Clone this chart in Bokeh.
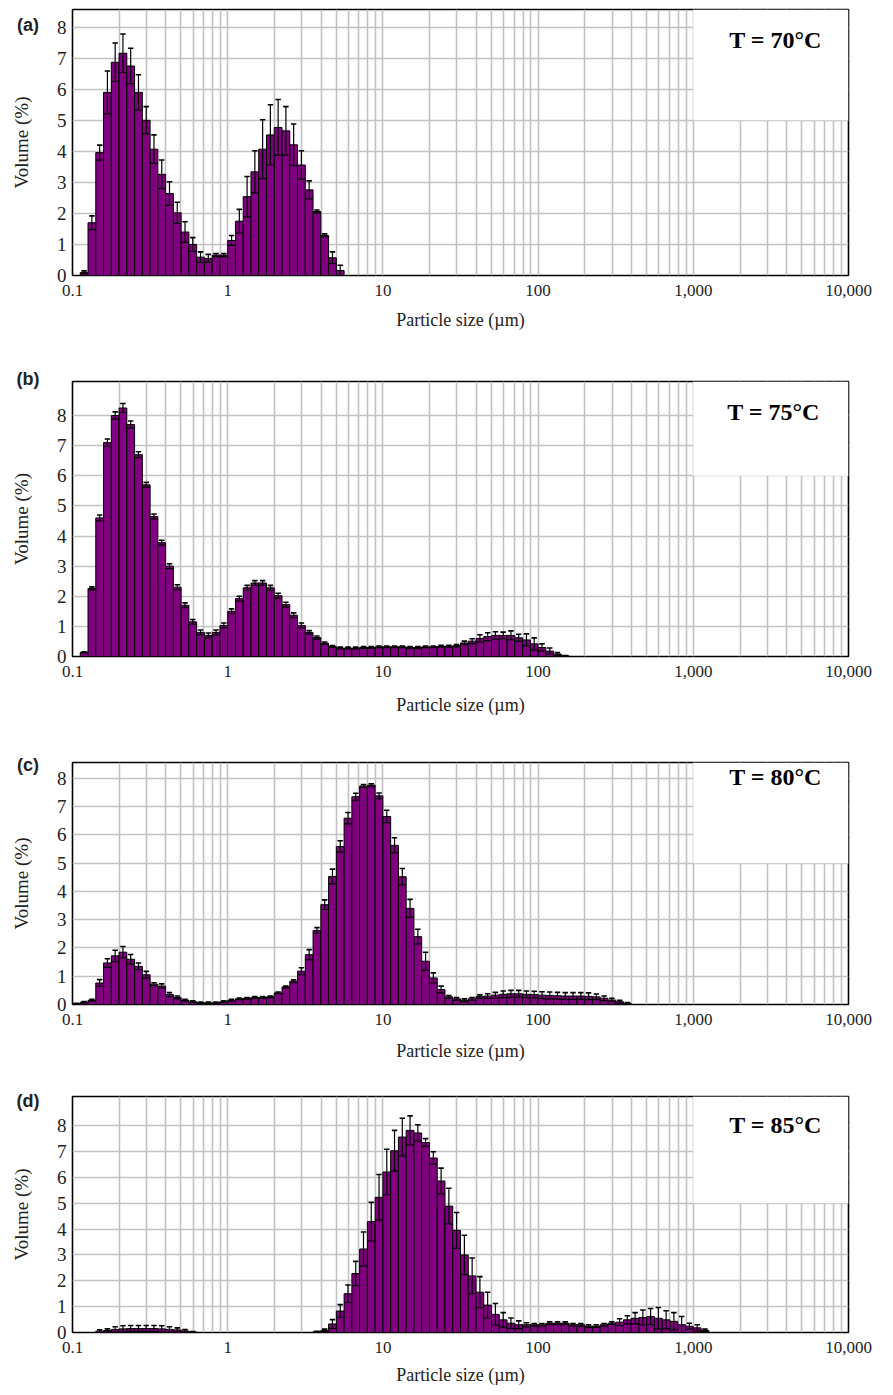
import numpy as np
from bokeh.plotting import figure
from bokeh.layouts import column
from bokeh.models import (Range1d, FixedTicker, NumeralTickFormatter, BoxAnnotation,
                          Label, ColumnDataSource, Div)
from bokeh.embed import file_html
from bokeh.resources import INLINE

# ---------------- data ----------------
CLASSES_PER_DECADE = 20          # size classes (log-spaced) per decade
SMALLEST_CLASS = 0.1             # µm, lower edge of class 0
x_ticks = [0.1, 1, 10, 100, 1000, 10000]
x_minor = [m * d for d in [0.1, 1, 10, 100, 1000] for m in range(2, 10)]
y_ticks = [0, 1, 2, 3, 4, 5, 6, 7, 8]

panel_tags = ["(a)", "(b)", "(c)", "(d)"]
temperatures = ["T = 70°C", "T = 75°C", "T = 80°C", "T = 85°C"]
first_class = [1, 1, 0, 3]

a_mean = [0.10, 1.70, 3.96, 5.90, 6.87, 7.16, 6.75, 5.90, 5.00, 4.07,
          3.26, 2.64, 2.02, 1.40, 1.00, 0.59, 0.55, 0.66, 0.66, 1.13,
          1.75, 2.54, 3.34, 4.07, 4.53, 4.77, 4.66, 4.21, 3.56, 2.76,
          2.06, 1.29, 0.57, 0.16]
a_sd = [0.05, 0.22, 0.24, 0.69, 0.62, 0.62, 0.57, 0.57, 0.44, 0.46,
        0.46, 0.38, 0.34, 0.33, 0.22, 0.17, 0.13, 0.05, 0.05, 0.16,
        0.38, 0.65, 0.68, 0.95, 0.97, 0.90, 0.78, 0.67, 0.46, 0.29,
        0.05, 0.05, 0.19, 0.17]

b_mean = [0.14, 2.26, 4.60, 7.10, 8.00, 8.25, 7.70, 6.70, 5.70, 4.65,
          3.78, 3.00, 2.30, 1.70, 1.15, 0.80, 0.70, 0.80, 1.03, 1.50,
          1.92, 2.28, 2.44, 2.44, 2.28, 2.02, 1.72, 1.37, 1.03, 0.80,
          0.63, 0.44, 0.33, 0.28, 0.28, 0.28, 0.30, 0.30, 0.32, 0.32,
          0.32, 0.32, 0.30, 0.30, 0.32, 0.32, 0.34, 0.34, 0.36, 0.45,
          0.51, 0.60, 0.66, 0.70, 0.70, 0.70, 0.62, 0.55, 0.42, 0.30,
          0.18, 0.08, 0.02]
b_sd = [0.02, 0.05, 0.10, 0.12, 0.12, 0.15, 0.12, 0.10, 0.08, 0.08,
        0.08, 0.08, 0.08, 0.08, 0.08, 0.08, 0.08, 0.08, 0.08, 0.08,
        0.08, 0.08, 0.08, 0.08, 0.08, 0.08, 0.08, 0.08, 0.08, 0.06,
        0.05, 0.04, 0.03, 0.03, 0.03, 0.03, 0.03, 0.03, 0.03, 0.03,
        0.03, 0.03, 0.03, 0.03, 0.03, 0.03, 0.03, 0.03, 0.04, 0.06,
        0.08, 0.12, 0.13, 0.12, 0.11, 0.15, 0.12, 0.20, 0.20, 0.12,
        0.10, 0.05, 0.01]

c_mean = [0.03, 0.08, 0.15, 0.76, 1.47, 1.72, 1.85, 1.60, 1.35, 1.05,
          0.72, 0.65, 0.35, 0.25, 0.15, 0.10, 0.06, 0.06, 0.06, 0.10,
          0.15, 0.20, 0.22, 0.25, 0.25, 0.27, 0.41, 0.62, 0.82, 1.18,
          1.76, 2.62, 3.53, 4.53, 5.59, 6.59, 7.35, 7.73, 7.76, 7.38,
          6.65, 5.63, 4.52, 3.40, 2.40, 1.53, 0.94, 0.53, 0.27, 0.20,
          0.15, 0.20, 0.28, 0.30, 0.33, 0.36, 0.38, 0.38, 0.36, 0.35,
          0.33, 0.32, 0.31, 0.30, 0.30, 0.30, 0.29, 0.27, 0.22, 0.16,
          0.10, 0.04]
c_sd = [0.01, 0.02, 0.03, 0.12, 0.15, 0.20, 0.20, 0.17, 0.12, 0.12,
        0.05, 0.08, 0.07, 0.05, 0.03, 0.03, 0.03, 0.03, 0.03, 0.03,
        0.03, 0.03, 0.03, 0.03, 0.03, 0.03, 0.03, 0.03, 0.05, 0.12,
        0.18, 0.10, 0.17, 0.26, 0.20, 0.20, 0.12, 0.05, 0.05, 0.10,
        0.22, 0.27, 0.29, 0.32, 0.26, 0.32, 0.18, 0.12, 0.05, 0.05,
        0.05, 0.05, 0.06, 0.08, 0.10, 0.12, 0.12, 0.12, 0.12, 0.12,
        0.12, 0.12, 0.12, 0.12, 0.12, 0.12, 0.12, 0.10, 0.08, 0.06,
        0.05, 0.03]

d_mean = [0.05, 0.08, 0.12, 0.14, 0.15, 0.15, 0.15, 0.15, 0.14, 0.12,
          0.10, 0.06, 0.02,
          0, 0, 0, 0, 0, 0, 0, 0, 0, 0, 0, 0, 0, 0, 0,
          0.03, 0.08, 0.33, 0.83, 1.50, 2.28, 3.23, 4.29, 5.23, 6.21,
          7.03, 7.56, 7.82, 7.72, 7.35, 6.75, 5.86, 4.89, 3.95, 3.00,
          2.19, 1.56, 1.06, 0.70, 0.49, 0.36, 0.30, 0.30, 0.30, 0.30,
          0.36, 0.36, 0.36, 0.30, 0.30, 0.25, 0.25, 0.30, 0.36, 0.40,
          0.49, 0.55, 0.58, 0.62, 0.55, 0.49, 0.43, 0.30, 0.24, 0.18,
          0.08]
d_sd = [0.05, 0.06, 0.10, 0.12, 0.12, 0.12, 0.12, 0.12, 0.12, 0.10,
        0.08, 0.05, 0.02,
        0, 0, 0, 0, 0, 0, 0, 0, 0, 0, 0, 0, 0, 0, 0,
        0.02, 0.05, 0.17, 0.25, 0.34, 0.47, 0.66, 0.75, 0.88, 0.88,
        0.79, 0.73, 0.56, 0.32, 0.15, 0.24, 0.50, 0.69, 0.69, 0.76,
        0.69, 0.60, 0.50, 0.42, 0.28, 0.20, 0.15, 0.08, 0.05, 0.05,
        0.05, 0.05, 0.05, 0.05, 0.05, 0.05, 0.05, 0.05, 0.05, 0.13,
        0.16, 0.22, 0.29, 0.31, 0.42, 0.35, 0.34, 0.32, 0.12, 0.12,
        0.05]

means = [a_mean, b_mean, c_mean, d_mean]
sds = [a_sd, b_sd, c_sd, d_sd]

# ---------------- styling / layout ----------------
y_max = [8.57, 9.13, 8.56, 9.13]
box_bottom = [5, 6, 5, 5]
# width, height, border left, right, top, bottom
layout = [(877, 332, 65, 29, 9, 57),
          (877, 386, 72, 25, 49, 62),
          (877, 345, 70, 25, 44, 58),
          (877, 324, 72, 25, 33, 50)]
x_standoffs = [(5, 11), (5, 15), (5, 13), (5, 9)]   # tick label, axis label
tag_offset = [4, -14, -9, -7]                # tag centre vs frame top (layout)
temp_pos = [(-80, 30), (-79, 30), (-79, 15), (-77, 33)]   # from frame top-right

SERIF = "Liberation Serif"
PURPLE = "#800080"
GRID = "#c2c2c2"


def make_panel(i):
    w, h, bl, br, bt, bb = layout[i]
    fw, fh = w - bl - br, h - bt - bb
    p = figure(width=w, height=h, x_axis_type="log",
               x_range=Range1d(0.1, 10000), y_range=Range1d(0, y_max[i]),
               output_backend="svg", toolbar_location=None, tools="",
               min_border_left=bl, min_border_right=br,
               min_border_top=bt, min_border_bottom=bb)
    p.background_fill_color = "white"
    p.border_fill_color = "white"
    p.outline_line_color = "black"
    p.outline_line_width = 1.6

    # axes
    p.xaxis.ticker = FixedTicker(ticks=x_ticks, minor_ticks=x_minor)
    p.xaxis.formatter = NumeralTickFormatter(format="0,0.[0]")
    p.yaxis.ticker = FixedTicker(ticks=y_ticks)
    for ax in (p.xaxis[0], p.yaxis[0]):
        ax.axis_line_color = None
        ax.major_tick_line_color = None
        ax.minor_tick_line_color = None
        ax.major_tick_out = 0
        ax.major_tick_in = 0
        ax.major_label_text_font = SERIF
        ax.major_label_text_color = "#222222"
        ax.axis_label_text_font = SERIF
        ax.axis_label_text_font_style = "normal"
        ax.axis_label_text_color = "#222222"
    p.xaxis.major_label_text_font_size = "17px"
    p.yaxis.major_label_text_font_size = "19px"
    p.xaxis.axis_label = "Particle size (µm)"
    p.xaxis.axis_label_text_font_size = "18px"
    p.xaxis.major_label_standoff = x_standoffs[i][0]
    p.xaxis.axis_label_standoff = x_standoffs[i][1]
    p.yaxis.axis_label = "Volume (%)"
    p.yaxis.axis_label_text_font_size = "19px"
    p.yaxis.major_label_standoff = 6
    p.yaxis.axis_label_standoff = 22

    # grid
    p.xgrid.ticker = FixedTicker(ticks=x_ticks, minor_ticks=x_minor)
    p.ygrid.ticker = FixedTicker(ticks=y_ticks)
    for g in (p.xgrid[0], p.ygrid[0]):
        g.grid_line_color = GRID
        g.grid_line_width = 1.6
    p.xgrid.minor_grid_line_color = GRID
    p.xgrid.minor_grid_line_width = 1.6

    # bars
    m = np.array(means[i], dtype=float)
    s = np.array(sds[i], dtype=float)
    k = first_class[i] + np.arange(len(m))
    keep = m > 0
    m, s, k = m[keep], s[keep], k[keep]
    lo = SMALLEST_CLASS * 10 ** (k / CLASSES_PER_DECADE)
    hi = SMALLEST_CLASS * 10 ** ((k + 1) / CLASSES_PER_DECADE)
    mid = np.sqrt(lo * hi)
    cap_l = SMALLEST_CLASS * 10 ** ((k + 0.15) / CLASSES_PER_DECADE)
    cap_r = SMALLEST_CLASS * 10 ** ((k + 0.85) / CLASSES_PER_DECADE)
    src = ColumnDataSource(dict(lo=lo, hi=hi, mid=mid, top=m,
                                up=m + s, down=np.maximum(m - s, 0),
                                cl=cap_l, cr=cap_r))
    p.quad(left="lo", right="hi", bottom=0, top="top", source=src,
           fill_color=PURPLE, line_color="black", line_width=1)
    p.segment(x0="lo", y0="down", x1="hi", y1="down", source=src,
              line_color="black", line_width=1.2)
    p.segment(x0="mid", y0="down", x1="mid", y1="up", source=src,
              line_color="black", line_width=1.2)
    p.segment(x0="cl", y0="up", x1="cr", y1="up", source=src,
              line_color="black", line_width=1.6)

    # legend area (white box hides the grid)
    p.add_layout(BoxAnnotation(left=1000, bottom=box_bottom[i],
                               fill_color="white", fill_alpha=1.0,
                               line_color=None, level="overlay"))
    tx, ty = temp_pos[i]
    p.add_layout(Label(x=fw + tx, y=fh - ty, x_units="screen", y_units="screen",
                       text=temperatures[i], text_font=SERIF,
                       text_font_size="24px", text_font_style="bold",
                       text_align="center", text_baseline="middle",
                       text_color="black", level="overlay"))
    return p


panels = [make_panel(i) for i in range(4)]

# panel tags "(a)".."(d)" sit outside the plot frames -> one overlay Div
tag_html = []
y0 = 0
for i in range(4):
    w, h, bl, br, bt, bb = layout[i]
    cy = y0 + bt + tag_offset[i]
    tag_html.append(
        f'<div style="position:absolute;left:28px;top:{cy}px;'
        f'transform:translate(-50%,-50%);font-family:\'Liberation Sans\';'
        f'font-weight:bold;font-size:18px;color:#222222;white-space:nowrap;'
        f'line-height:1">{panel_tags[i]}</div>')
    y0 += h
tags = Div(text='<div style="position:relative;width:0;height:0">'
                + "".join(tag_html) + "</div>",
           width=877, height=0,
           styles={"position": "absolute", "z-index": "10",
                   "overflow": "visible", "margin": "0"})

p = column(tags, *panels, spacing=0)
open("out.html", "w").write(file_html(p, INLINE))
